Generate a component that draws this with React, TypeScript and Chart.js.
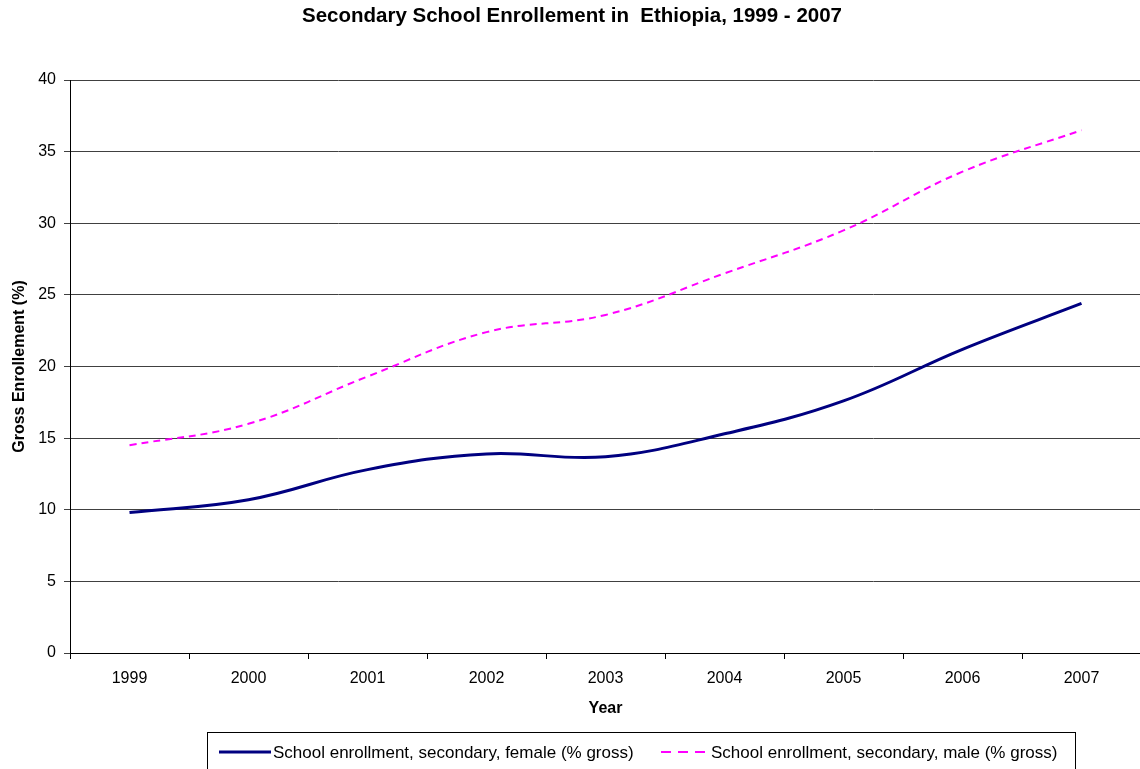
import React, { useEffect, useRef } from "react";
import { Chart, registerables } from "chart.js";

Chart.register(...registerables);

const TITLE = "Secondary School Enrollement in  Ethiopia, 1999 - 2007";
const X_TITLE = "Year";
const Y_TITLE = "Gross Enrollement (%)";
const YEARS = ["1999", "2000", "2001", "2002", "2003", "2004", "2005", "2006", "2007"];
const FEMALE_LABEL = "School enrollment, secondary, female (% gross)";
const MALE_LABEL = "School enrollment, secondary, male (% gross)";
const FEMALE = [9.8, 10.7, 12.8, 13.9, 13.7, 15.3, 17.6, 21.2, 24.4];
const MALE = [14.5, 16.0, 19.3, 22.4, 23.6, 26.5, 29.5, 33.6, 36.5];

const FONT = '"Liberation Sans", Arial, sans-serif';

const decorPlugin = {
  id: "decor",
  afterDraw(chart: any) {
    const ctx = chart.ctx;
    ctx.save();
    // title
    ctx.fillStyle = "#000";
    ctx.font = `bold 20.5px ${FONT}`;
    ctx.textAlign = "center";
    ctx.textBaseline = "middle";
    ctx.fillText(TITLE, 572, 16);

    // legend
    const top = 732;
    const cy = 752;
    ctx.strokeStyle = "#000";
    ctx.lineWidth = 1;
    ctx.setLineDash([]);
    ctx.strokeRect(207.5, top + 0.5, 868, 60);
    ctx.font = `17px ${FONT}`;
    ctx.textAlign = "left";
    const ds = chart.data.datasets;
    const starts = [219, 661];
    const widths = [52, 48];
    ds.forEach((d: any, i: number) => {
      const x = starts[i];
      const sampleW = widths[i];
      ctx.beginPath();
      ctx.strokeStyle = d.borderColor;
      ctx.lineWidth = d.borderWidth;
      ctx.setLineDash(i === 1 ? [10, 7] : []);
      ctx.moveTo(x, cy);
      ctx.lineTo(x + sampleW, cy);
      ctx.stroke();
      ctx.setLineDash([]);
      ctx.fillStyle = "#000";
      ctx.fillText(d.label, x + sampleW + 2, cy + 1);
    });
    ctx.restore();
  },
};

export default function App() {
  const ref = useRef<HTMLCanvasElement | null>(null);
  useEffect(() => {
    document.body.style.margin = "0";
    const chart = new Chart(ref.current!, {
      type: "line",
      data: {
        labels: YEARS,
        datasets: [
          {
            label: FEMALE_LABEL,
            data: FEMALE,
            borderColor: "#000080",
            backgroundColor: "#000080",
            borderWidth: 3,
            pointRadius: 0,
            tension: 0.4,
            fill: false,
          },
          {
            label: MALE_LABEL,
            data: MALE,
            borderColor: "#FF00FF",
            backgroundColor: "#FF00FF",
            borderWidth: 2,
            borderDash: [7, 5],
            pointRadius: 0,
            tension: 0.4,
            fill: false,
          },
        ],
      },
      options: {
        responsive: false,
        animation: false,
        layout: { padding: { top: 80, left: 10, right: 9, bottom: 82 } },
        plugins: {
          legend: { display: false },
          title: { display: false },
          tooltip: { enabled: false },
        },
        scales: {
          x: {
            offset: true,
            afterFit: (s: any) => { s.height = 65; },
            grid: {
              offset: true,
              drawOnChartArea: false,
              drawTicks: true,
              tickLength: 6,
              color: "#000",
            },
            border: { color: "#000", width: 1 },
            ticks: { color: "#000", font: { family: FONT, size: 16 }, padding: 10, maxRotation: 0 },
            title: {
              display: true,
              text: X_TITLE,
              color: "#000",
              font: { family: FONT, size: 16, weight: "bold" },
              padding: { top: 4, bottom: 0 },
            },
          },
          y: {
            min: 0,
            max: 40,
            afterFit: (s: any) => { s.width = 60; },
            ticks: { stepSize: 5, color: "#000", font: { family: FONT, size: 16 }, padding: 8 },
            grid: { color: "#404040", tickLength: 6, drawTicks: true },
            border: { color: "#000", width: 1 },
            title: {
              display: true,
              text: Y_TITLE,
              color: "#000",
              font: { family: FONT, size: 16, weight: "bold" },
              padding: { top: 0, bottom: 0 },
            },
          },
        },
      },
      plugins: [decorPlugin],
    });
    return () => chart.destroy();
  }, []);
  return (
    <div style={{ position: "fixed", left: 0, top: 0, width: 1140, height: 769, overflow: "hidden", background: "#fff" }}>
      <canvas ref={ref} width={1150} height={800} style={{ display: "block" }} />
    </div>
  );
}
